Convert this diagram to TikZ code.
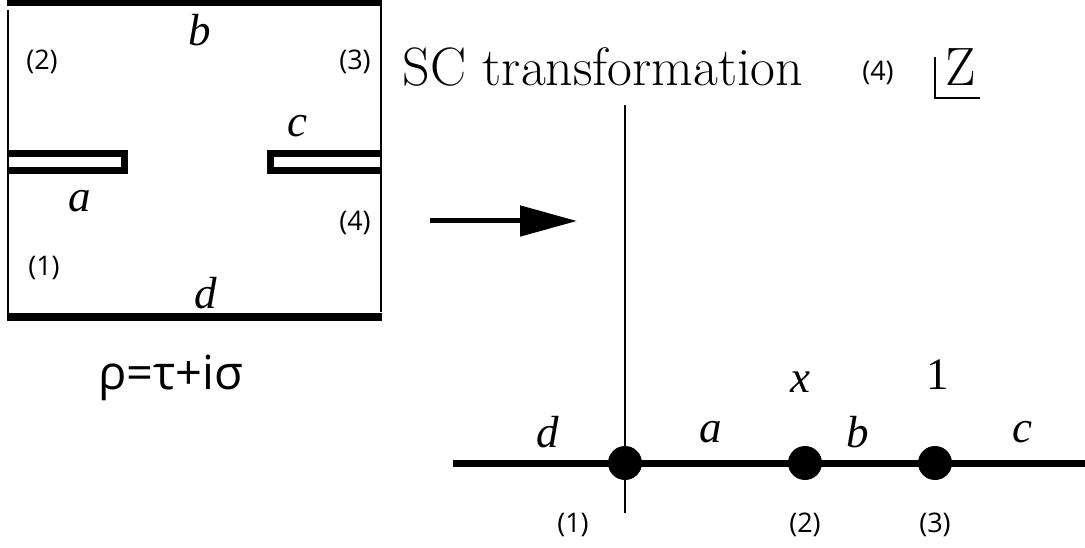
\documentclass[tikz,border=0pt]{standalone}
\usepackage{fontspec}
\usetikzlibrary{arrows.meta}
\newfontfamily\tms{Liberation Serif}
\newfontfamily\sns{Open Sans}
\tikzset{
  thickline/.style={line width=7pt},
  thinline/.style={line width=2.5pt},
  slot/.style={line width=6.5pt, miter limit=10},
  ital/.style={inner sep=0pt, font=\fontsize{45}{48}\selectfont\tms\itshape},
  num/.style={inner sep=0pt, font=\fontsize{27}{30}\selectfont\sns},
  dotnode/.style={circle, fill=black, inner sep=0pt, minimum size=34pt},
  bigrm/.style={inner sep=0pt, anchor=base, font=\fontsize{54}{58}\selectfont},
}
\begin{document}
\begin{tikzpicture}[x=1pt,y=-1pt]
\useasboundingbox (0,0) rectangle (1085,548);
% box
\coordinate (tl) at (7,3); \coordinate (tr) at (382,3);
\coordinate (bl) at (7,317); \coordinate (br) at (382,317);
\draw[thickline] (tl) -- (tr);
\draw[thickline] (bl) -- (br);
\coordinate (lt) at (8,10); \coordinate (lb) at (8,318);
\coordinate (rt) at (381,5); \coordinate (rb) at (381,312);
\draw[thinline] (lt) -- (lb);
\draw[thinline] (rt) -- (rb);
% slots
\coordinate (s1a) at (8,153.5); \coordinate (s1b) at (124.5,153.5);
\coordinate (s1c) at (124.5,170.5); \coordinate (s1d) at (8,170.5);
\draw[slot] (s1a) -- (s1b) -- (s1c) -- (s1d);
\coordinate (s2a) at (382,153.5); \coordinate (s2b) at (270.5,153.5);
\coordinate (s2c) at (270.5,170.5); \coordinate (s2d) at (382,170.5);
\draw[slot] (s2a) -- (s2b) -- (s2c) -- (s2d);
% box labels
\node[ital] (lb_b) at (200,30) {b};
\node[num] (n2) at (42,62) {(2)};
\node[num] (n3) at (355,62) {(3)};
\node[ital] (lb_c) at (297,126) {c};
\node[ital] (lb_a) at (80,201) {a};
\node[num] (n4) at (355,223) {(4)};
\node[num] (n1) at (44,268) {(1)};
\node[ital] (lb_d) at (206,293) {d};
\node[inner sep=0pt, font=\fontsize{47}{50}\selectfont\sns] (rho) at (171,378) {ρ=τ+iσ};
% arrow
\coordinate (a0) at (430,221); \coordinate (a1) at (577,221);
\draw[line width=5pt, -{Triangle[length=57pt,width=30pt]}] (a0) -- (a1);
% title
\node[bigrm] (title) at (603,86) {SC transformation};
\node[num, anchor=base] (z4) at (878,81) {(4)};
\node[bigrm] (zz) at (961,86) {Z};
\coordinate (zc1) at (935,57); \coordinate (zc2) at (935,98); \coordinate (zc3) at (980,98);
\draw[line width=2pt] (zc1) -- (zc2) -- (zc3);
% axes
\coordinate (vt) at (625,105); \coordinate (vb) at (625,513);
\draw[thinline] (vt) -- (vb);
\coordinate (hl) at (453,463); \coordinate (hr) at (1085,463);
\draw[thickline] (hl) -- (hr);
\node[dotnode] (p1) at (625,463) {};
\node[dotnode] (p2) at (805,463) {};
\node[dotnode] (p3) at (935,463) {};
% line labels
\node[ital] (ld) at (548,432) {d};
\node[ital] (la) at (711,432) {a};
\node[ital] (lbb) at (858,432) {b};
\node[ital] (lc) at (1022,432) {c};
\node[ital] (lx) at (800,382) {x};
\node[inner sep=0pt, font=\fontsize{45}{48}\selectfont\tms] (l1) at (938,375) {1};
\node[num] (m1) at (573,525) {(1)};
\node[num] (m2) at (805,525) {(2)};
\node[num] (m3) at (935,525) {(3)};
\end{tikzpicture}
\end{document}
